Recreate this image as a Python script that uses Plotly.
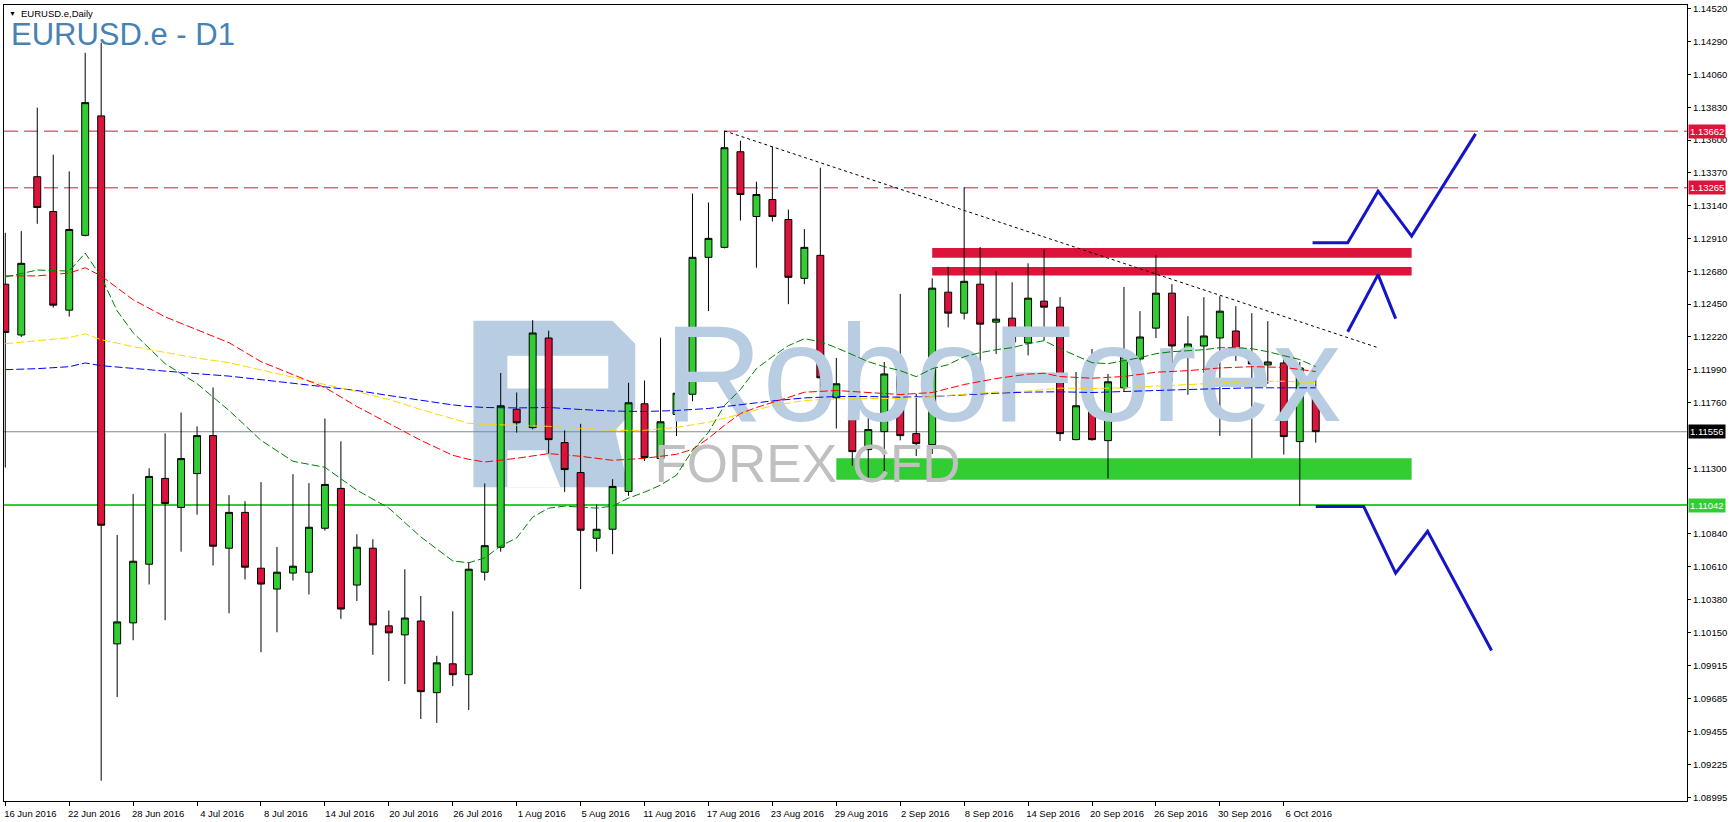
import plotly.graph_objects as go

# ---------------- data ----------------
tick_labels = ["16 Jun 2016", "22 Jun 2016", "28 Jun 2016", "4 Jul 2016", "8 Jul 2016",
               "14 Jul 2016", "20 Jul 2016", "26 Jul 2016", "1 Aug 2016", "5 Aug 2016",
               "11 Aug 2016", "17 Aug 2016", "23 Aug 2016", "29 Aug 2016", "2 Sep 2016",
               "8 Sep 2016", "14 Sep 2016", "20 Sep 2016", "26 Sep 2016", "30 Sep 2016",
               "6 Oct 2016"]
tick_bars = list(range(0, 81, 4))

opens = [1.12590, 1.12234, 1.13343, 1.13099, 1.12408, 1.12932, 1.13769, 1.10070, 1.10217, 1.10628,
         1.11229, 1.11026, 1.11263, 1.11529, 1.10740, 1.10991, 1.10600, 1.10454, 1.10566, 1.10572,
         1.10880, 1.11159, 1.10482, 1.10740, 1.10196, 1.10133, 1.10230, 1.09728, 1.09930, 1.09854,
         1.10572, 1.10747, 1.11714, 1.11585, 1.12213, 1.11480, 1.11270, 1.10810, 1.10873, 1.11138,
         1.11752, 1.11368, 1.11677, 1.11819, 1.12778, 1.12848, 1.13518, 1.13064, 1.13183, 1.13043,
         1.12631, 1.12792, 1.11794, 1.11885, 1.11431, 1.11557, 1.11968, 1.11543, 1.11466, 1.12534,
         1.12387, 1.12590, 1.12324, 1.12352, 1.12178, 1.12471, 1.12429, 1.11501, 1.11731, 1.11494,
         1.11864, 1.12066, 1.12282, 1.12527, 1.12080, 1.12157, 1.12213, 1.12262, 1.12101, 1.12024,
         1.12038, 1.11487, 1.11801]
highs = [1.12950, 1.12962, 1.13827, 1.13497, 1.13380, 1.14211, 1.14281, 1.10833, 1.11119, 1.11300,
         1.11545, 1.11691, 1.11594, 1.11866, 1.11112, 1.11070, 1.11203, 1.10749, 1.11259, 1.11196,
         1.11649, 1.11489, 1.10838, 1.10803, 1.10304, 1.10593, 1.10405, 1.09986, 1.10298, 1.10642,
         1.11194, 1.11968, 1.11831, 1.12338, 1.12264, 1.11566, 1.11612, 1.11047, 1.11224, 1.11899,
         1.11915, 1.12215, 1.12031, 1.13225, 1.13162, 1.13664, 1.13595, 1.13308, 1.13553, 1.13113,
         1.12976, 1.13406, 1.12073, 1.11920, 1.11654, 1.12045, 1.12522, 1.11822, 1.12631, 1.12712,
         1.13269, 1.12850, 1.12680, 1.12603, 1.12736, 1.12834, 1.12499, 1.11975, 1.12136, 1.11961,
         1.12571, 1.12401, 1.12792, 1.12590, 1.12366, 1.12499, 1.12506, 1.12436, 1.12387, 1.12331,
         1.12122, 1.12045, 1.12017]
lows = [1.11305, 1.12220, 1.13013, 1.12426, 1.12363, 1.12925, 1.09111, 1.09697, 1.10095, 1.10486,
        1.10235, 1.10716, 1.10975, 1.10619, 1.10284, 1.10521, 1.10011, 1.10151, 1.10514, 1.10416,
        1.10863, 1.10245, 1.10370, 1.09993, 1.09809, 1.09788, 1.09544, 1.09516, 1.09774, 1.09607,
        1.10514, 1.10716, 1.11550, 1.11573, 1.11403, 1.11135, 1.10454, 1.10716, 1.10698, 1.11107,
        1.11351, 1.11310, 1.11526, 1.11770, 1.12401, 1.12841, 1.13036, 1.12705, 1.13029, 1.12450,
        1.12590, 1.11801, 1.11578, 1.11319, 1.11226, 1.11268, 1.11496, 1.11386, 1.11400, 1.12287,
        1.12343, 1.11979, 1.12101, 1.12035, 1.12091, 1.12194, 1.11491, 1.11496, 1.11494, 1.11229,
        1.11836, 1.11934, 1.12213, 1.11906, 1.11815, 1.11968, 1.11527, 1.12052, 1.11372, 1.11892,
        1.11396, 1.11037, 1.11480]
closes = [1.12252, 1.12736, 1.13127, 1.12443, 1.12973, 1.13862, 1.10901, 1.10224, 1.10649, 1.11243,
          1.11054, 1.11368, 1.11529, 1.10754, 1.10991, 1.10607, 1.10489, 1.10572, 1.10614, 1.10887,
          1.11187, 1.10314, 1.10747, 1.10203, 1.10147, 1.10251, 1.09735, 1.09937, 1.09854, 1.10593,
          1.10758, 1.11738, 1.11619, 1.12248, 1.11501, 1.11291, 1.10866, 1.10873, 1.11173, 1.11759,
          1.11375, 1.11626, 1.11826, 1.12778, 1.12911, 1.13546, 1.13218, 1.13218, 1.13064, 1.12638,
          1.12848, 1.11934, 1.11892, 1.11417, 1.11571, 1.11961, 1.11529, 1.11473, 1.12562, 1.12387,
          1.12610, 1.12310, 1.12345, 1.12185, 1.12492, 1.12429, 1.11543, 1.11738, 1.11501, 1.11906,
          1.12080, 1.12220, 1.12527, 1.12157, 1.12171, 1.12227, 1.12401, 1.12108, 1.12031, 1.12045,
          1.11522, 1.12003, 1.11557]
bars = list(range(len(closes)))

# moving averages (bar index, value)
ma_green_x = [0, 2, 4, 5, 6, 7, 8, 10, 12, 14, 16, 18, 20, 22, 24, 26, 28] + list(range(29, 83))
ma_green_y = [1.12640, 1.12689, 1.12682, 1.12808, 1.12641, 1.12403, 1.12250,
              1.12033, 1.11893, 1.11705, 1.11496, 1.11349, 1.11307, 1.11147, 1.11021, 1.10819, 1.10651,
              1.10638, 1.10672, 1.10756, 1.10812, 1.10958, 1.11021, 1.11035, 1.11028, 1.11021, 1.11035,
              1.11091, 1.11133, 1.11182, 1.11252, 1.11426, 1.11552, 1.11740, 1.11852, 1.11998, 1.12082,
              1.12159, 1.12208, 1.12187, 1.12145, 1.12096, 1.12047, 1.12012, 1.11984, 1.11942, 1.11998,
              1.12026, 1.12082, 1.12110, 1.12131, 1.12145, 1.12173, 1.12194, 1.12138, 1.12089, 1.12040,
              1.12033, 1.12054, 1.12075, 1.12103, 1.12117, 1.12124, 1.12131, 1.12145, 1.12145, 1.12138,
              1.12117, 1.12089, 1.12062, 1.12012]
ma_red_x = [0, 2, 4, 5, 6, 7, 8, 10, 12, 14, 16, 18, 20, 22, 24, 26, 28, 29, 30, 32, 34, 36, 38, 40,
            42, 43, 44, 45, 46, 47, 48, 49, 50, 52, 54, 56, 58, 60, 62, 64, 65, 66, 68, 70, 72, 74,
            76, 78, 80, 82]
ma_red_y = [1.12648, 1.12648, 1.12668, 1.12705, 1.12648, 1.12564, 1.12481, 1.12361, 1.12271, 1.12180,
            1.12047, 1.11957, 1.11866, 1.11733, 1.11614, 1.11496, 1.11391, 1.11363, 1.11344, 1.11370,
            1.11403, 1.11384, 1.11356, 1.11370, 1.11398, 1.11433, 1.11510, 1.11601, 1.11684, 1.11726,
            1.11761, 1.11796, 1.11833, 1.11845, 1.11833, 1.11817, 1.11831, 1.11887, 1.11929, 1.11960,
            1.11966, 1.11943, 1.11931, 1.11943, 1.11973, 1.11984, 1.12003, 1.12012, 1.12007, 1.11978]
ma_slow_x = [0, 2, 4, 5, 6, 8, 10, 12, 14, 16, 18, 20, 22, 24, 26, 28, 29] + list(range(30, 83, 2))
ma_yellow_y = [1.12173, 1.12194, 1.12215, 1.12243, 1.12201, 1.12152, 1.12110, 1.12072, 1.12040,
               1.11988, 1.11936, 1.11887, 1.11838, 1.11782, 1.11712, 1.11650, 1.11615,
               1.11608, 1.11601, 1.11594, 1.11580, 1.11566, 1.11566, 1.11587, 1.11622, 1.11680,
               1.11738, 1.11775, 1.11786, 1.11789, 1.11789, 1.11803, 1.11820, 1.11834, 1.11841,
               1.11862, 1.11859, 1.11864, 1.11876, 1.11885, 1.11898, 1.11908, 1.11910, 1.11899]
ma_blue_y = [1.11991, 1.11998, 1.12012, 1.12038, 1.12019, 1.11998, 1.11981, 1.11963, 1.11946,
             1.11921, 1.11897, 1.11873, 1.11845, 1.11810, 1.11775, 1.11744, 1.11733,
             1.11726, 1.11723, 1.11726, 1.11712, 1.11701, 1.11698, 1.11705, 1.11719, 1.11747,
             1.11772, 1.11793, 1.11803, 1.11803, 1.11798, 1.11803, 1.11817, 1.11826, 1.11834,
             1.11836, 1.11831, 1.11836, 1.11845, 1.11852, 1.11859, 1.11864, 1.11864, 1.11864]

# levels and drawn objects
level_res_hi = 1.13662
level_res_lo = 1.13265
level_last = 1.11556
level_sup = 1.11042
trend_x = [45, 85.9]
trend_y = [1.13664, 1.12145]
zone_red1 = [58.0, 88.0, 1.12775, 1.12843]
zone_red2 = [58.0, 88.0, 1.12650, 1.12710]
zone_green = [52.0, 88.0, 1.11219, 1.11370]
up_path_x = [81.8, 84.0, 85.9, 88.0, 92.0]
up_path_y = [1.12880, 1.12880, 1.13242, 1.12927, 1.13643]
up2_path_x = [84.0, 85.9, 87.0]
up2_path_y = [1.12257, 1.12657, 1.12349]
down_path_x = [82.0, 85.0, 87.0, 89.0, 93.0]
down_path_y = [1.11033, 1.11033, 1.10566, 1.10858, 1.10024]

y_ticks = [1.14520, 1.14290, 1.14060, 1.13830, 1.13600, 1.13370, 1.13140, 1.12910, 1.12680,
           1.12450, 1.12220, 1.11990, 1.11760, 1.11300, 1.10840, 1.10610,
           1.10380, 1.10150, 1.09915, 1.09685, 1.09455, 1.09225, 1.08995]

# ---------------- figure ----------------
W, H = 1730, 822
ML, MR, MT, MB = 3, 42, 3, 20
PW, PH = W - ML - MR, H - MT - MB
FONT = "Liberation Sans, Arial, sans-serif"
WM = "rgb(184,204,226)"


def px(x, y):
    return (x - ML) / PW, (H - MB - y) / PH


fig = go.Figure()

# watermark (drawn first so everything sits on top)
fig.add_trace(go.Scatter(x=[62.4], y=[1.11872], mode="text", text=["RoboForex"],
                         textposition="middle center", hoverinfo="skip",
                         textfont=dict(family=FONT, size=137, color=WM)))
fig.add_trace(go.Scatter(x=[50.2], y=[1.11296], mode="text", text=["FOREX CFD"],
                         textposition="middle center", hoverinfo="skip",
                         textfont=dict(family=FONT, size=53, color="rgb(192,192,192)")))

# moving averages
for xs, ys, col in [(ma_slow_x, ma_blue_y, "#0000FF"), (ma_slow_x, ma_yellow_y, "#FFD700"),
                    (ma_red_x, ma_red_y, "#FF0000"), (ma_green_x, ma_green_y, "#008000")]:
    fig.add_trace(go.Scatter(x=xs, y=ys, mode="lines", hoverinfo="skip",
                             line=dict(color=col, width=1, dash="8px,3px")))

# candles
fig.add_trace(go.Candlestick(
    x=bars, open=opens, high=highs, low=lows, close=closes,
    increasing=dict(fillcolor="#32CD32", line=dict(color="black", width=1)),
    decreasing=dict(fillcolor="#DC143C", line=dict(color="black", width=1)),
    whiskerwidth=0, hoverinfo="skip"))

# trendline & forecast paths
fig.add_trace(go.Scatter(x=trend_x, y=trend_y, mode="lines", hoverinfo="skip",
                         line=dict(color="black", width=1, dash="dot")))
for xs, ys in [(up_path_x, up_path_y), (up2_path_x, up2_path_y), (down_path_x, down_path_y)]:
    fig.add_trace(go.Scatter(x=xs, y=ys, mode="lines", hoverinfo="skip",
                             line=dict(color="#1414C8", width=3)))

shapes = []
# logo block (decoration)
logo_outer = [(473, 320), (612, 320), (635, 343), (635, 408), (615, 430), (628, 487), (473, 487)]
hole1 = [(507, 355), (608, 355), (608, 388), (507, 388)]
hole2 = [(507, 450), (545, 450), (560, 487), (507, 487)]


def path_of(pts):
    s = ""
    for k, (a, b) in enumerate(pts):
        u, v = px(a, b)
        s += ("M" if k == 0 else "L") + f"{u:.5f},{v:.5f} "
    return s + "Z"


shapes.append(dict(type="path", xref="paper", yref="paper", path=path_of(logo_outer),
                   fillcolor=WM, line=dict(width=0), layer="below"))
for hpts in (hole1, hole2):
    shapes.append(dict(type="path", xref="paper", yref="paper", path=path_of(hpts),
                       fillcolor="white", line=dict(width=0), layer="below"))

for z, col in [(zone_red1, "#DC143C"), (zone_red2, "#DC143C"), (zone_green, "#32CD32")]:
    shapes.append(dict(type="rect", xref="x", yref="y", x0=z[0], x1=z[1], y0=z[2], y1=z[3],
                       fillcolor=col, line=dict(width=0), layer="below"))

for lv, col, wd, ds in [(level_res_hi, "#DC143C", 1, "14px,6px"), (level_res_lo, "#DC143C", 1, "14px,6px"),
                        (level_last, "rgb(128,138,150)", 1, "solid"), (level_sup, "#32CD32", 2, "solid")]:
    shapes.append(dict(type="line", xref="paper", yref="y", x0=0, x1=1, y0=lv, y1=lv,
                       line=dict(color=col, width=wd, dash=ds), layer="below"))

annotations = []
for lv, bg in [(level_res_hi, "#DC143C"), (level_res_lo, "#DC143C"), (level_last, "black"),
               (level_sup, "#32CD32")]:
    annotations.append(dict(xref="paper", yref="y", x=1, y=lv, xanchor="left", yanchor="middle",
                            xshift=1, text=f"{lv:.5f}", showarrow=False, bgcolor=bg, borderpad=1,
                            font=dict(family=FONT, size=9.5, color="white")))

hx, hy = px(6, 12)
annotations.append(dict(xref="paper", yref="paper", x=hx, y=hy, xanchor="left", yanchor="middle",
                        text="▼", showarrow=False, font=dict(family=FONT, size=7, color="black")))
hx, hy = px(18, 12)
annotations.append(dict(xref="paper", yref="paper", x=hx, y=hy, xanchor="left", yanchor="middle",
                        text="EURUSD.e,Daily", showarrow=False,
                        font=dict(family=FONT, size=9.5, color="black")))
hx, hy = px(8, 33)
annotations.append(dict(xref="paper", yref="paper", x=hx, y=hy, xanchor="left", yanchor="middle",
                        text="EURUSD.e - D1", showarrow=False,
                        font=dict(family=FONT, size=31, color="#4682B4")))

fig.update_layout(
    width=W, height=H, margin=dict(l=ML, r=MR, t=MT, b=MB),
    plot_bgcolor="white", paper_bgcolor="white", showlegend=False,
    boxgap=0.38,
    shapes=shapes, annotations=annotations,
    xaxis=dict(range=[-0.081, 105.23], tickvals=tick_bars, ticktext=tick_labels,
               ticks="outside", ticklen=4, tickcolor="black", showgrid=False, zeroline=False,
               showline=True, linecolor="black", linewidth=1, mirror=True,
               rangeslider=dict(visible=False), ticklabelshift=25,
               tickfont=dict(family=FONT, size=9.5, color="black")),
    yaxis=dict(side="right", range=[1.08969, 1.14546], tickvals=y_ticks,
               ticktext=[f"{v:.5f}" for v in y_ticks],
               ticks="outside", ticklen=3, tickcolor="black", showgrid=False, zeroline=False,
               showline=True, linecolor="black", linewidth=1, mirror=True,
               tickfont=dict(family=FONT, size=9.5, color="black")),
)

fig.write_html("out.html", config={"displayModeBar": False},
               post_script="document.body.style.margin='0';document.body.style.padding='0';"
                           "document.body.style.overflow='hidden';")
